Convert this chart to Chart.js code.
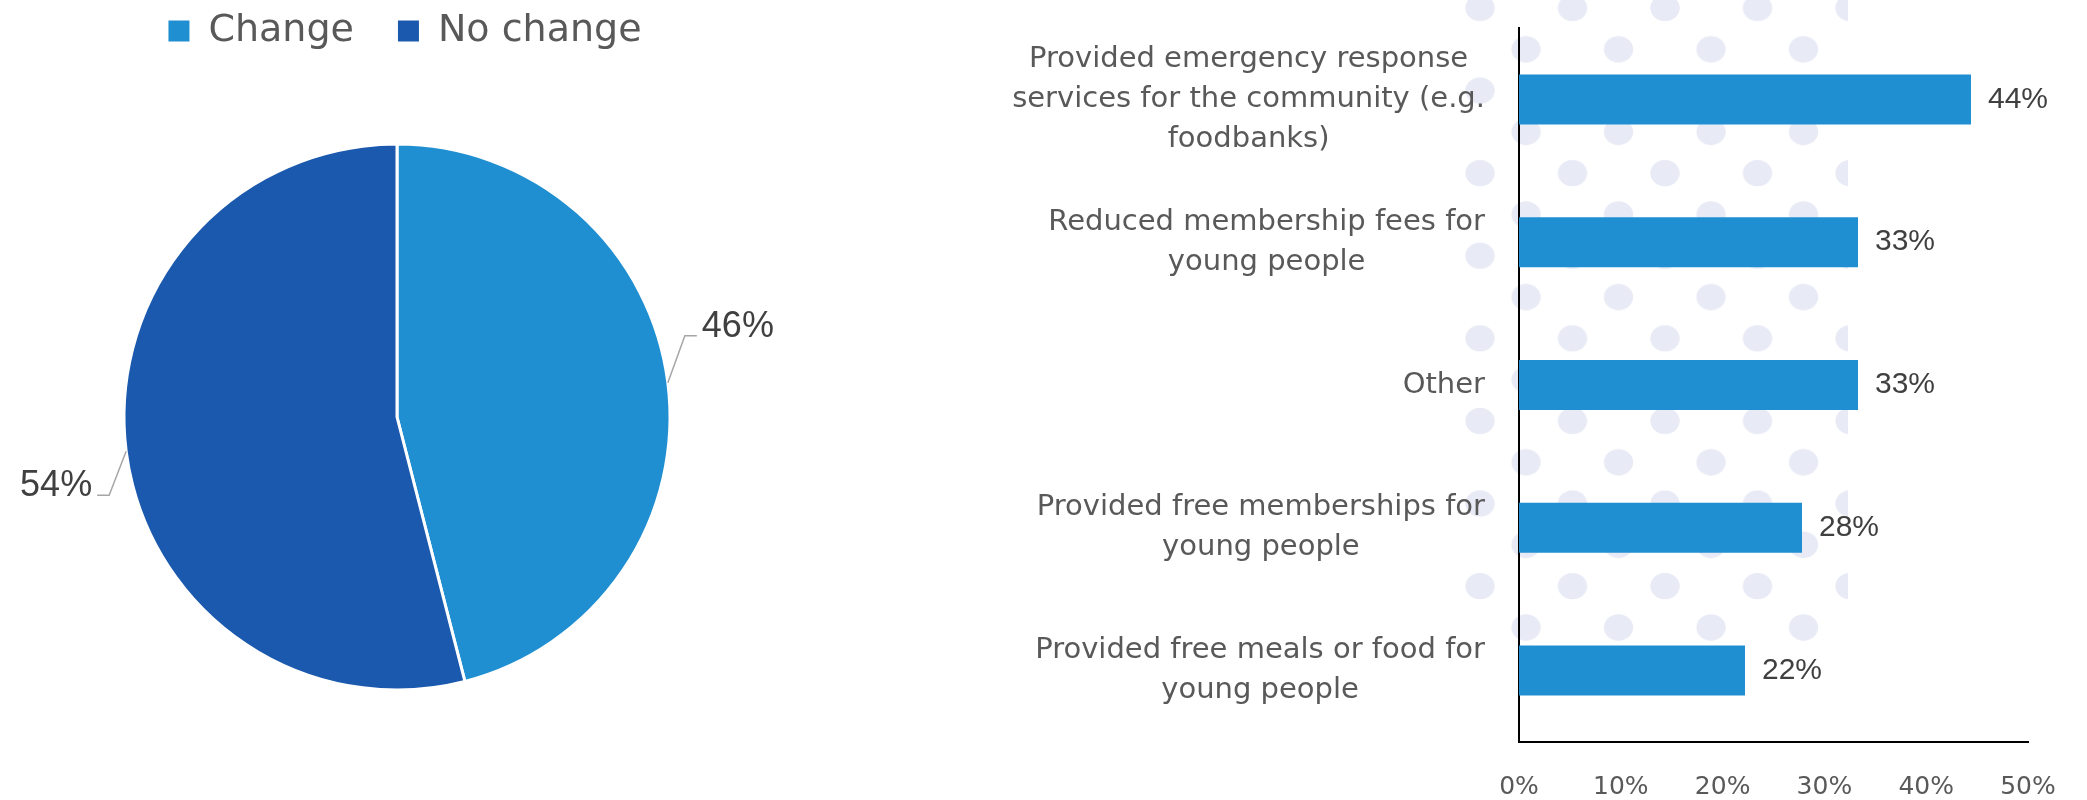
<!DOCTYPE html>
<html>
<head>
<meta charset="utf-8">
<script src="https://cdn.jsdelivr.net/npm/chart.js@4.4.0/dist/chart.umd.min.js"></script>
<style>
    html, body { margin: 0; padding: 0; background: #fff; }
    body { width: 2087px; height: 800px; position: relative; overflow: hidden; }
    /* dotted backdrop behind the bar chart */
    #dots {
        position: absolute; left: 1465px; top: -12px; width: 383px; height: 654px;
        background-image:
            radial-gradient(15px 13.5px at 15px 20px, #e8eaf5 95%, rgba(232,234,245,0) 100%),
            radial-gradient(15px 13.5px at 61px 61.3px, #e8eaf5 95%, rgba(232,234,245,0) 100%);
        background-size: 92.5px 82.6px;
    }
    #pieWrap { position: absolute; left: -3px; top: -32px; width: 800px; height: 806px; }
    #barWrap { position: absolute; left: 1000px; top: 0; width: 1087px; height: 800px; }
</style>
</head>
<body>
<div id="dots"></div>
<div id="pieWrap"><canvas id="pieChart"></canvas></div>
<div id="barWrap"><canvas id="barChart"></canvas></div>
<script>
// pie data
const pieLabels = ['Change', 'No change'];
const pieValues = [46, 54];
const pieColors = ['#1f8fd1', '#1a59ad'];

// bar data
const categories = [
    ['Provided emergency response', 'services for the community (e.g.', 'foodbanks)'],
    ['Reduced membership fees for', 'young people'],
    ['Other'],
    ['Provided free memberships for', 'young people'],
    ['Provided free meals or food for', 'young people']
];
const barValues = [44.4, 33.3, 33.3, 27.8, 22.2];
const xTicks = [0, 10, 20, 30, 40, 50];
const barColor = '#1f8fd1';

// labels outside the pie with a little elbow leader line
const pieLabelPlugin = {
    id: 'pieLabels',
    afterLayout(chart) {
        // legend sits a touch right of the pie centre in the original
        chart.legend.left += 8;
        chart.legend.right += 8;
    },
    afterDatasetsDraw(chart) {
        const ctx = chart.ctx;
        const meta = chart.getDatasetMeta(0);
        ctx.save();
        ctx.font = '36px "Liberation Sans"';
        ctx.fillStyle = '#404040';
        ctx.strokeStyle = '#a6a6a6';
        ctx.lineWidth = 1.5;
        meta.data.forEach((arc, i) => {
            const p = arc.getProps(['x', 'y', 'startAngle', 'endAngle', 'outerRadius'], true);
            const mid = (p.startAngle + p.endAngle) / 2;
            const side = Math.cos(mid) >= 0 ? 1 : -1;
            const ex = p.x + Math.cos(mid) * p.outerRadius;
            const ey = p.y + Math.sin(mid) * p.outerRadius;
            const kx = ex + side * 17;
            const ky = ey - (side > 0 ? 47 : -44);
            const hx = kx + side * 12;
            ctx.beginPath();
            ctx.moveTo(ex, ey);
            ctx.lineTo(kx, ky);
            ctx.lineTo(hx, ky);
            ctx.stroke();
            ctx.textAlign = side > 0 ? 'left' : 'right';
            ctx.textBaseline = 'alphabetic';
            ctx.fillText(pieValues[i] + '%', hx + side * 5, ky + 1);
        });
        ctx.restore();
    }
};

// category labels: lines centred on each other, block right-aligned to the axis
const catLabelPlugin = {
    id: 'catLabels',
    afterDraw(chart) {
        const ctx = chart.ctx;
        const yScale = chart.scales.y;
        const right = chart.chartArea.left - 34;
        ctx.save();
        ctx.font = '29px "DejaVu Sans"';
        ctx.fillStyle = '#595959';
        ctx.textAlign = 'center';
        ctx.textBaseline = 'middle';
        categories.forEach((lines, i) => {
            const cy = yScale.getPixelForValue(i);
            const w = Math.max(...lines.map(l => ctx.measureText(l).width));
            const cx = right - w / 2;
            lines.forEach((line, j) => {
                ctx.fillText(line, cx, cy + (j - (lines.length - 1) / 2) * 40);
            });
        });
        ctx.restore();
    }
};

const barValuePlugin = {
    id: 'barValues',
    afterDatasetsDraw(chart) {
        const ctx = chart.ctx;
        const meta = chart.getDatasetMeta(0);
        ctx.save();
        ctx.font = '30px "Liberation Sans"';
        ctx.fillStyle = '#404040';
        ctx.textAlign = 'left';
        ctx.textBaseline = 'middle';
        meta.data.forEach((bar, i) => {
            ctx.fillText(Math.round(barValues[i]) + '%', bar.x + 17, bar.y);
        });
        ctx.restore();
    }
};

new Chart(document.getElementById('pieChart'), {
    type: 'pie',
    data: {
        labels: pieLabels,
        datasets: [{
            data: pieValues,
            backgroundColor: pieColors,
            borderColor: '#ffffff',
            borderWidth: 3,
            radius: 273
        }]
    },
    options: {
        responsive: true,
        maintainAspectRatio: false,
        animation: false,
        plugins: {
            legend: {
                position: 'top',
                labels: {
                    font: { family: 'DejaVu Sans', size: 38 },
                    color: '#595959',
                    boxWidth: 21,
                    boxHeight: 21,
                    padding: 44,
                    generateLabels(chart) {
                        const items = Chart.controllers.pie.overrides.plugins.legend.labels.generateLabels(chart);
                        items.forEach(it => { it.lineWidth = 0; });
                        return items;
                    }
                }
            },
            tooltip: { enabled: false }
        }
    },
    plugins: [pieLabelPlugin]
});

new Chart(document.getElementById('barChart'), {
    type: 'bar',
    data: {
        labels: categories,
        datasets: [{
            data: barValues,
            backgroundColor: barColor,
            barPercentage: 0.35,
            categoryPercentage: 1
        }]
    },
    options: {
        indexAxis: 'y',
        responsive: true,
        maintainAspectRatio: false,
        animation: false,
        layout: { padding: { left: 519, right: 59, top: 28, bottom: 0 } },
        plugins: {
            legend: { display: false },
            tooltip: { enabled: false }
        },
        scales: {
            x: {
                min: xTicks[0],
                max: xTicks[xTicks.length - 1],
                afterBuildTicks(scale) {
                    scale.ticks = xTicks.map(v => ({ value: v }));
                },
                ticks: {
                    callback: v => v + '%',
                    font: { family: 'DejaVu Sans', size: 25 },
                    color: '#595959',
                    padding: 30
                },
                grid: { display: false, drawTicks: false },
                border: { display: true, color: '#000', width: 2 },
                afterFit(scale) { scale.height = 58; }
            },
            y: {
                ticks: { display: false },
                grid: { display: false, drawTicks: false },
                border: { display: true, color: '#000', width: 2 },
                afterFit(scale) { scale.width = 0; }
            }
        }
    },
    plugins: [catLabelPlugin, barValuePlugin]
});
</script>
</body>
</html>
